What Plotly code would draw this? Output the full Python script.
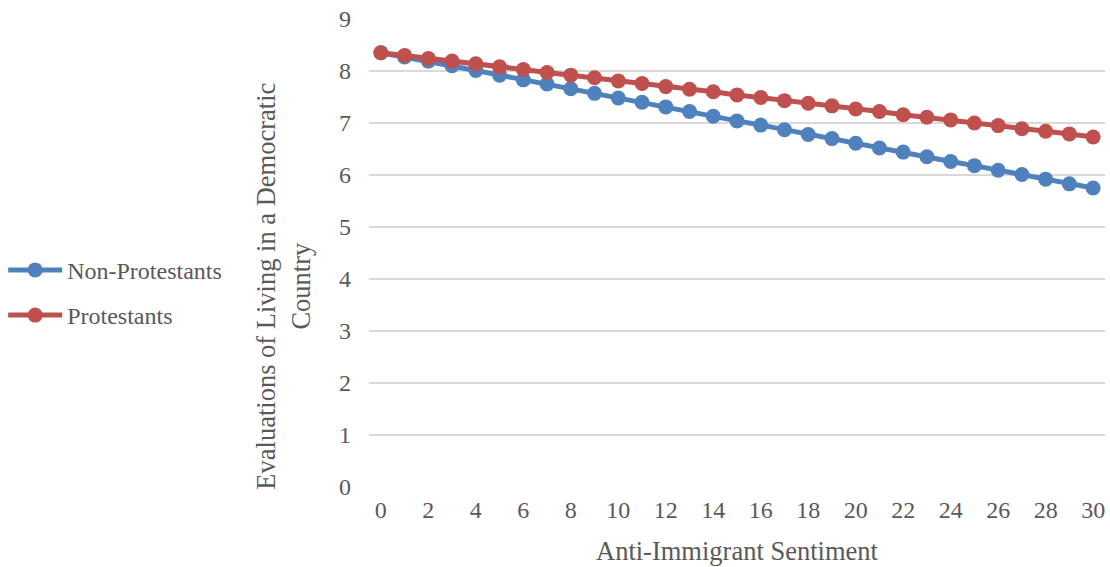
import plotly.graph_objects as go

x_vals = list(range(0, 31))
non_protestants = [8.35, 8.27, 8.19, 8.10, 8.01, 7.92, 7.83, 7.75, 7.66, 7.57, 7.48,
                   7.40, 7.31, 7.22, 7.13, 7.04, 6.96, 6.87, 6.78, 6.70, 6.61,
                   6.52, 6.44, 6.35, 6.26, 6.18, 6.09, 6.01, 5.92, 5.83, 5.75]
protestants = [8.35, 8.30, 8.24, 8.19, 8.14, 8.08, 8.03, 7.97, 7.92, 7.87, 7.81,
               7.76, 7.70, 7.65, 7.60, 7.54, 7.49, 7.43, 7.38, 7.33, 7.27,
               7.22, 7.16, 7.11, 7.06, 7.00, 6.95, 6.89, 6.84, 6.79, 6.73]
x_ticks = list(range(0, 31, 2))
y_ticks = list(range(0, 10))

FONT = "Liberation Serif"
GRAY = "#595959"

fig = go.Figure()
fig.add_trace(go.Scatter(x=x_vals, y=non_protestants, name="Non-Protestants", mode="lines+markers",
                         line=dict(color="#4F81BD", width=5),
                         marker=dict(color="#4F81BD", size=15), legendgroup="a"))
fig.add_trace(go.Scatter(x=x_vals, y=protestants, name="Protestants", mode="lines+markers",
                         line=dict(color="#C0504D", width=5),
                         marker=dict(color="#C0504D", size=15), legendgroup="b"))

fig.update_layout(
    width=1110, height=567,
    margin=dict(l=368, r=5, t=19, b=80),
    paper_bgcolor="white", plot_bgcolor="white",
    font=dict(family=FONT, color=GRAY, size=24),
    showlegend=True,
    legend=dict(x=-0.495, y=0.415, xanchor="left", yanchor="middle",
                font=dict(family=FONT, size=24, color=GRAY),
                traceorder="grouped", tracegroupgap=11, itemwidth=54,
                bgcolor="rgba(0,0,0,0)"),
    xaxis=dict(range=[-0.5, 30.5], tickvals=x_ticks, ticktext=[str(v) for v in x_ticks],
               showgrid=False, zeroline=False, showline=False, ticks="",
               tickfont=dict(size=24, family=FONT), ticklabelstandoff=6),
    yaxis=dict(range=[0, 9], tickvals=y_ticks, showgrid=True, gridcolor="#D9D9D9", gridwidth=1.5,
               zeroline=False, showline=False, ticks="", tickfont=dict(size=24, family=FONT),
               ticklabelstandoff=17),
    annotations=[
        dict(text="Evaluations of Living in a Democratic<br>Country", textangle=-90,
             x=-0.117, y=0.43, xref="paper", yref="paper", showarrow=False,
             xanchor="center", yanchor="middle",
             font=dict(size=26.5, color=GRAY, family=FONT)),
        dict(text="Anti-Immigrant Sentiment", x=0.5, y=-0.137, xref="paper", yref="paper",
             showarrow=False, xanchor="center", yanchor="middle",
             font=dict(size=26.5, color=GRAY, family=FONT)),
    ],
)
fig.write_html("out.html")
